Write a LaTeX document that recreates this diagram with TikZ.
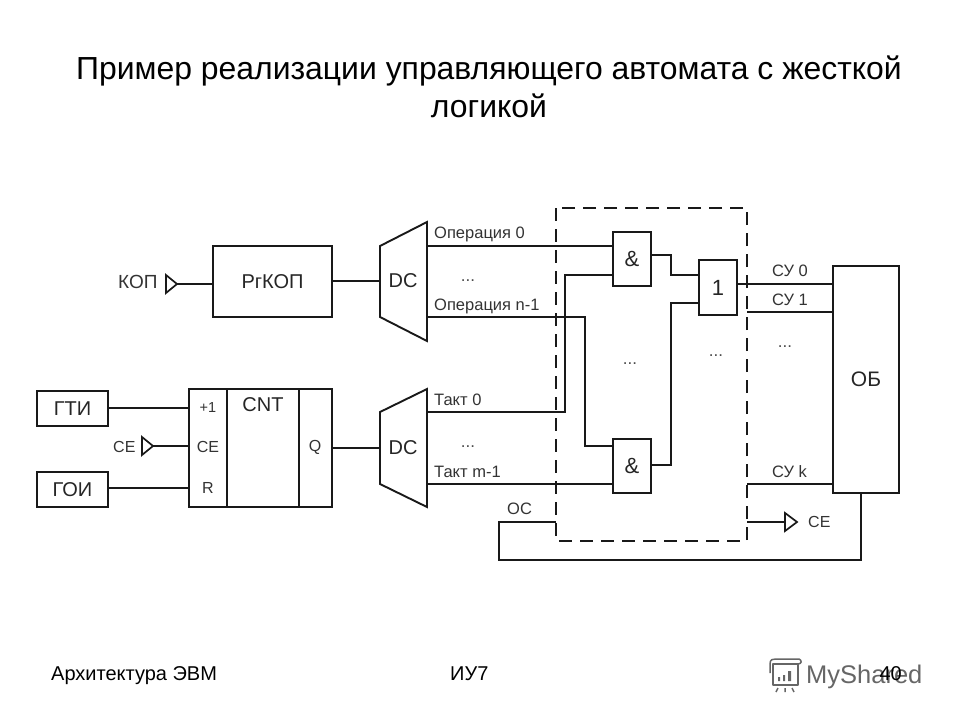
\documentclass[tikz,border=0pt]{standalone}
\usepackage{fontspec}
\setmainfont{Liberation Sans}
\usetikzlibrary{calc}
\newcommand{\fsz}[1]{\fontsize{#1}{#1}\selectfont}
\tikzset{
  wire/.style={line width=1.9pt,black!90,line join=miter},
  thinwire/.style={line width=1.6pt,black!90,line join=miter},
  boxn/.style={draw=black!90,line width=1.8pt,rectangle,inner sep=0pt,fill=white,text=black!85},
  dcshape/.style={draw=black!90,line width=1.9pt,fill=white,line join=miter},
  dashbox/.style={draw=black!90,line width=1.7pt,dash pattern=on 13pt off 8pt},
  tri/.style={draw=black!90,line width=1.7pt,fill=white,line join=miter},
  lbl/.style={anchor=base west,inner sep=0pt,text=black!80,font=\fsz{16.5}},
  dots/.style={anchor=center,inner sep=0pt,text=black!70,font=\fsz{17}},
  foot/.style={inner sep=0pt,anchor=base west,font=\fsz{20}},
  logo/.style={draw=black!60!white,line width=1.5pt,line join=round}
}
\begin{document}
\begin{tikzpicture}[x=1pt,y=-1pt]
\useasboundingbox (0,0) rectangle (960,720);
% title
\node[inner sep=0pt,anchor=base,font=\fsz{31.9}] (t1) at (489,79) {Пример реализации управляющего автомата с жесткой};
\node[inner sep=0pt,anchor=base,font=\fsz{31.9}] (t2) at (489,117) {логикой};
% boxes
\node[boxn,minimum width=119pt,minimum height=71pt,font=\fsz{20}] (rg) at (272.5,281.5) {РгКОП};
\node[boxn,minimum width=71pt,minimum height=35pt,font=\fsz{20}] (gti) at (72.5,408.5) {ГТИ};
\node[boxn,minimum width=71pt,minimum height=35pt,font=\fsz{20}] (goi) at (72.5,489.5) {ГОИ};
\node[boxn,minimum width=38pt,minimum height=118pt] (cl) at (208,448) {};
\node[boxn,minimum width=72pt,minimum height=118pt] (cm) at (263,448) {};
\node[boxn,minimum width=33pt,minimum height=118pt] (cr) at (315.5,448) {};
\node[boxn,minimum width=38pt,minimum height=54pt,font=\fsz{22}] (and1) at (632,259) {\&};
\node[boxn,minimum width=38pt,minimum height=54pt,font=\fsz{22}] (and2) at (632,466) {\&};
\node[boxn,minimum width=38pt,minimum height=55pt,font=\fsz{22}] (or1) at (718,287.5) {1};
\node[boxn,minimum width=66pt,minimum height=227pt,font=\fsz{21}] (ob) at (866,379.5) {ОБ};
% counter labels
\node[inner sep=0pt,font=\fsz{20},text=black!85] (cntl) at (263,405) {CNT};
\node[inner sep=0pt,font=\fsz{14.5},text=black!80] (p1) at (208,408) {+1};
\node[inner sep=0pt,font=\fsz{16},text=black!80] (ce2) at (208,447) {CE};
\node[inner sep=0pt,font=\fsz{16},text=black!80] (rr) at (208,488) {R};
\node[inner sep=0pt,font=\fsz{16},text=black!80] (qq) at (315,447) {Q};
% decoders
\coordinate (d1a) at (380,246); \coordinate (d1b) at (427,222);
\coordinate (d1c) at (427,341); \coordinate (d1d) at (380,317);
\coordinate (d2a) at (380,412); \coordinate (d2b) at (427,389);
\coordinate (d2c) at (427,507); \coordinate (d2d) at (380,484);
\draw[dcshape] (d1a)--(d1b)--(d1c)--(d1d)--cycle;
\draw[dcshape] (d2a)--(d2b)--(d2c)--(d2d)--cycle;
\node[inner sep=0pt,font=\fsz{20},text=black!85] (dc1) at (403,281) {DC};
\node[inner sep=0pt,font=\fsz{20},text=black!85] (dc2) at (403,448) {DC};
% dashed frame
\coordinate (fa) at (556,208); \coordinate (fb) at (747,541);
\draw[dashbox] (fa) rectangle (fb);
% triangles
\coordinate (kopt) at (177,284); \coordinate (cet) at (153,446); \coordinate (ceo) at (797,522);
\draw[tri] (166,275)--(kopt)--(166,293)--cycle;
\draw[tri] (142,437)--(cet)--(142,455)--cycle;
\draw[tri] (785,513)--(ceo)--(785,531)--cycle;
% input wires
\draw[thinwire] (kopt) -- (rg.west |- kopt);
\draw[thinwire] (rg.east |- 0,281) -- (d1a |- 0,281);
\draw[wire] (gti.east |- 0,408) -- (cl.west |- 0,408);
\draw[wire] (cet) -- (cl.west |- cet);
\draw[wire] (goi.east |- 0,488) -- (cl.west |- 0,488);
\draw[thinwire] (cr.east |- 0,448) -- (d2a |- 0,448);
% decoder outputs
\coordinate (o0) at (427,246); \coordinate (on) at (427,317);
\coordinate (t0) at (427,412); \coordinate (tm) at (427,484);
\draw[wire] (o0) -- (and1.west |- o0);
\draw[thinwire] (on) -- (585,317) -- (585,446) -- (and2.west |- 0,446);
\draw[thinwire] (t0) -- (565,412) -- (565,275) -- (and1.west |- 0,275);
\draw[wire] (tm) -- (and2.west |- tm);
% gates to or
\draw[thinwire] (and1.east |- 0,255) -- (671,255) -- (671,275) -- (or1.west |- 0,275);
\draw[wire] (and2.east |- 0,465) -- (671,465) -- (671,303) -- (or1.west |- 0,303);
% outputs
\coordinate (su1s) at (747,312); \coordinate (suks) at (747,484); \coordinate (oc) at (556,522);
\draw[wire] (or1.east |- 0,284) -- (ob.west |- 0,284);
\draw[wire] (su1s) -- (ob.west |- su1s);
\draw[wire] (suks) -- (ob.west |- suks);
\draw[wire] (747,522) -- (785,522);
\draw[wire] (oc) -- (499,522) -- (499,560) -- (861,560) -- (861,493);
% labels
\node[lbl] (l1) at (434,238) {Операция 0};
\node[lbl] (l2) at (434,310) {Операция n-1};
\node[lbl] (l3) at (434,405) {Такт 0};
\node[lbl] (l4) at (434,477) {Такт m-1};
\node[lbl] (l5) at (507,514) {ОС};
\node[lbl] (l6) at (772,276) {СУ 0};
\node[lbl] (l7) at (772,305) {СУ 1};
\node[lbl] (l8) at (772,477) {СУ k};
\node[lbl,font=\fsz{16}] (l9) at (808,527) {CE};
\node[lbl,font=\fsz{16}] (l10) at (113,452) {CE};
\node[lbl,font=\fsz{19}] (l11) at (118,288) {КОП};
% dots
\node[dots] (e1) at (468,281) {...};
\node[dots] (e2) at (468,447) {...};
\node[dots] (e3) at (630,364) {...};
\node[dots] (e4) at (716,356) {...};
\node[dots] (e5) at (785,347) {...};
% footer
\node[foot] (f1) at (51,680) {Архитектура ЭВМ};
\node[foot] (f2) at (450,680) {ИУ7};
% logo
\node[inner sep=0pt,anchor=base west,font=\fsz{25.5},text=black!60] (my) at (806,683) {MyShared};
\draw[logo] (773,664) rectangle (798,685);
\draw[logo] (770,673) -- (770,664) .. controls (770,659) and (773,659) .. (776,659) -- (799,659) .. controls (802,660) and (802,664) .. (798,664);
\draw[logo] (778,688) -- (776,692) (785,688) -- (785,692) (792,688) -- (794,692);
\fill[black!60] (778,677) rectangle (780,681) (783,675) rectangle (785,681) (788,671) rectangle (791,681);
\node[inner sep=0pt,anchor=base east,font=\fsz{20}] (f3) at (902,680) {40};
\end{tikzpicture}
\end{document}
